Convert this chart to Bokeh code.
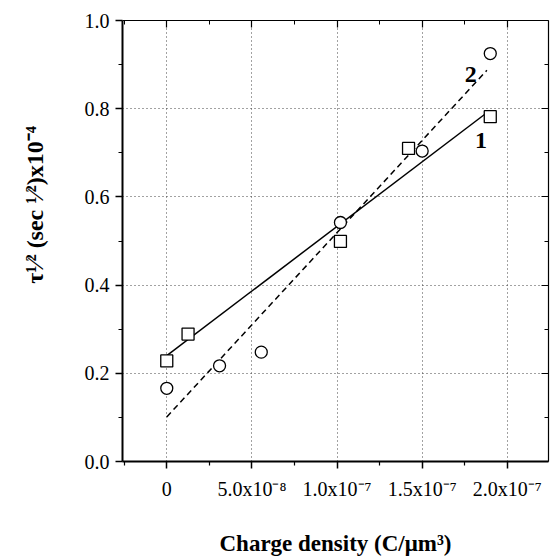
from bokeh.plotting import figure
from bokeh.models import (Range1d, LinearAxis, FixedTicker, CustomJSTickFormatter,
                          PrintfTickFormatter)
from bokeh.core.properties import value
from bokeh.embed import file_html
from bokeh.resources import INLINE

# ---- data ----
sq_x = [0.0, 1.25e-8, 1.02e-7, 1.42e-7, 1.90e-7]          # series 1 (squares)
sq_y = [0.228, 0.289, 0.499, 0.710, 0.782]
ci_x = [0.0, 3.1e-8, 5.55e-8, 1.02e-7, 1.50e-7, 1.90e-7]  # series 2 (circles)
ci_y = [0.166, 0.217, 0.248, 0.542, 0.704, 0.925]
fit1_x = [0.0, 1.87e-7]
fit1_y = [0.240, 0.788]
fit2_x = [0.0, 1.88e-7]
fit2_y = [0.101, 0.887]
series_labels = ["1", "2"]
series_label_x = [1.845e-7, 1.785e-7]
series_label_y = [0.729, 0.878]

x_ticks = [0.0, 5e-8, 1e-7, 1.5e-7, 2e-7]
x_tick_labels = ["0", "5.0x10\u207b\u2078", "1.0x10\u207b\u2077", "1.5x10\u207b\u2077", "2.0x10\u207b\u2077"]
x_minor = [-2.5e-8, 2.5e-8, 7.5e-8, 1.25e-7, 1.75e-7]
y_ticks = [0.0, 0.2, 0.4, 0.6, 0.8, 1.0]
y_minor = [0.1, 0.3, 0.5, 0.7, 0.9]

x_label = "Charge density (C/\u03bcm\u00b3)"
y_label = "\u03c4\u00b9\u2044\u00b2 (sec \u00b9\u2044\u00b2)x10\u207b\u2074"

SERIF = "Liberation Serif"

p = figure(width=552, height=558, output_backend="svg", toolbar_location=None,
           x_range=Range1d(-2.6e-8, 2.242e-7), y_range=Range1d(0.0, 1.0),
           min_border_left=122, min_border_right=4, min_border_top=20,
           min_border_bottom=93)
p.outline_line_color = None
p.background_fill_color = "white"
p.border_fill_color = "white"

xt = FixedTicker(ticks=x_ticks, minor_ticks=x_minor)
yt = FixedTicker(ticks=y_ticks, minor_ticks=y_minor)

xfmt = CustomJSTickFormatter(args=dict(tvals=x_ticks, tlabels=x_tick_labels), code="""
    for (let i = 0; i < tvals.length; i++) {
        if (Math.abs(tvals[i] - tick) < 1e-12) { return tlabels[i]; }
    }
    return "";
""")
blank = CustomJSTickFormatter(code='return "";')

# bottom axis
ax = p.xaxis[0]
ax.ticker = xt
ax.formatter = xfmt
ax.axis_label = x_label
# left axis
ay = p.yaxis[0]
ay.ticker = yt
ay.formatter = PrintfTickFormatter(format="%.1f")
# leading no-break spaces shift the centred label upward, as in the reference
ay.axis_label = "\u00a0" * 12 + y_label

for a in (ax, ay):
    a.axis_line_width = 2
    a.axis_line_color = "black"
    a.major_tick_line_color = "black"
    a.minor_tick_line_color = "black"
    a.major_tick_line_width = 1.5
    a.minor_tick_line_width = 1.2
    a.major_tick_in = 0
    a.major_tick_out = 7
    a.minor_tick_in = 0
    a.minor_tick_out = 4
    a.major_label_text_font = SERIF
    a.major_label_text_font_size = "20px"
    a.major_label_text_color = "black"
    a.axis_label_text_font = SERIF
    a.axis_label_text_font_style = "bold"
    a.axis_label_text_color = "black"
ax.axis_label_text_font_size = "23px"
ay.axis_label_text_font_size = "24px"
ax.major_label_standoff = 9
ax.axis_label_standoff = 28
ay.major_label_standoff = 6
ay.axis_label_standoff = 34

# top & right axes: inward ticks, no labels
top = LinearAxis(ticker=FixedTicker(ticks=x_ticks, minor_ticks=x_minor),
                 formatter=blank, major_label_standoff=0)
right = LinearAxis(ticker=FixedTicker(ticks=y_ticks, minor_ticks=y_minor),
                   formatter=blank, major_label_standoff=0)
for a in (top, right):
    a.axis_line_width = 1.2
    a.axis_line_color = "black"
    a.major_tick_in = 7
    a.major_tick_out = 0
    a.minor_tick_in = 4
    a.minor_tick_out = 0
    a.major_tick_line_width = 1.2
    a.minor_tick_line_width = 1
    a.major_label_text_font_size = "1px"
p.add_layout(top, "above")
p.add_layout(right, "right")

# grid
p.xgrid.ticker = FixedTicker(ticks=x_ticks)
p.ygrid.ticker = FixedTicker(ticks=y_ticks)
for g in (p.xgrid, p.ygrid):
    g.grid_line_color = "#444444"
    g.grid_line_dash = "1 3"
    g.grid_line_width = 1

# fit lines
p.line(fit1_x, fit1_y, line_color="black", line_width=1.5)
p.line(fit2_x, fit2_y, line_color="black", line_width=1.5, line_dash="6 4")

# markers
p.scatter(sq_x, sq_y, marker="square", size=12, fill_color="white",
          line_color="black", line_width=1.3)
p.scatter(ci_x, ci_y, marker="circle", size=12, fill_color="white",
          line_color="black", line_width=1.3)

# series labels
p.text(series_label_x, series_label_y, text=series_labels,
       text_font=value(SERIF), text_font_style="bold", text_font_size="24px",
       text_align="center", text_baseline="middle", text_color="black")

open("out.html", "w").write(file_html(p, INLINE))
